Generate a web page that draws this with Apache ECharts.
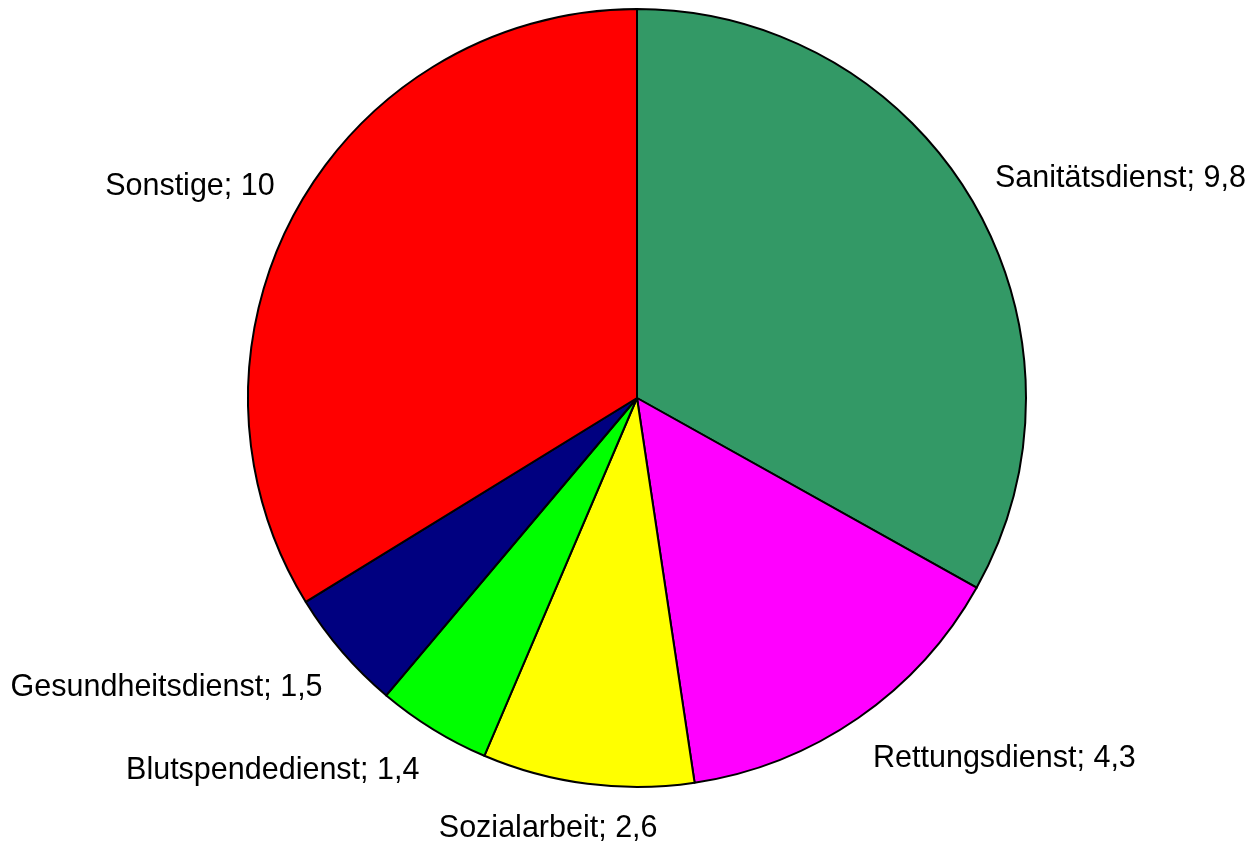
<!DOCTYPE html>
<html>
<head>
<meta charset="utf-8">
<script src="https://cdn.jsdelivr.net/npm/echarts@6/dist/echarts.min.js"></script>
<style>
  html, body { margin: 0; padding: 0; background: #fff; }
  #chart { width: 1252px; height: 845px; }
</style>
</head>
<body>
<div id="chart"></div>
<script>
const categories = ['Sanitätsdienst', 'Rettungsdienst', 'Sozialarbeit', 'Blutspendedienst', 'Gesundheitsdienst', 'Sonstige']
const values = [9.8, 4.3, 2.6, 1.4, 1.5, 10]
const colors = ['#339966', '#ff00ff', '#ffff00', '#00ff00', '#000080', '#ff0000']

const chart = echarts.init(document.getElementById('chart'))

const data = categories.map((name, i) => ({
  name: name,
  value: values[i],
  itemStyle: { color: colors[i] }
}))

// put the label box's nearest corner a little outside the slice edge,
// along the slice's mid direction (labels near the bottom end up centred)
const labelGap = 26
const boxHalfH = 14
const clamp = (v) => Math.max(-1, Math.min(1, v))
const placeLabel = (params) => {
  const pts = params.labelLinePoints
  if (!pts || pts.length < 2) return {}
  const vx = pts[1][0] - pts[0][0]
  const vy = pts[1][1] - pts[0][1]
  const len = Math.sqrt(vx * vx + vy * vy) || 1
  const dx = vx / len
  const dy = vy / len
  const w = params.labelRect.width
  return {
    x: pts[0][0] + dx * labelGap + clamp(2.6 * dx) * w / 2,
    y: pts[0][1] + dy * labelGap + clamp(2.6 * dy) * boxHalfH + 5,
    align: 'center',
    verticalAlign: 'middle'
  }
}

chart.setOption({
  backgroundColor: '#fff',
  animation: false,
  series: [
    {
      type: 'pie',
      center: [637, 398],
      radius: 389,
      startAngle: 90,
      clockwise: true,
      avoidLabelOverlap: false,
      data: data,
      itemStyle: {
        borderColor: '#000',
        borderWidth: 2
      },
      label: {
        show: true,
        position: 'outside',
        fontFamily: 'Liberation Sans, Arial, sans-serif',
        fontSize: 30.5,
        color: '#000',
        formatter: (p) => p.name + '; ' + String(p.value).replace('.', ',')
      },
      labelLine: {
        show: true,
        length: 20,
        length2: 0,
        lineStyle: { width: 0, opacity: 0 }
      },
      labelLayout: placeLabel
    }
  ]
})
</script>
</body>
</html>
